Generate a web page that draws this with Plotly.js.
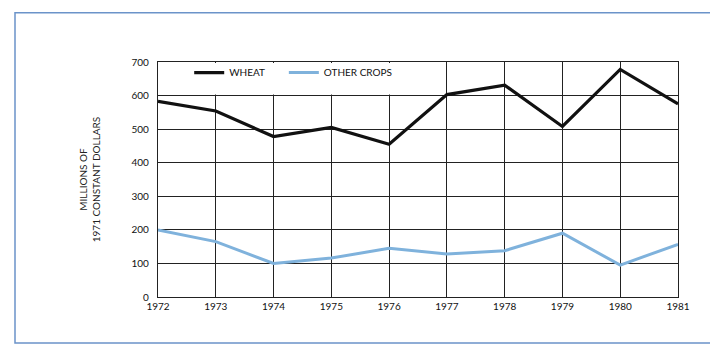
<!DOCTYPE html>
<html>
<head>
<meta charset="utf-8">
<script src="https://cdn.plot.ly/plotly-3.0.1.min.js"></script>
<style>html,body{margin:0;padding:0;background:#fff;}#chart{width:710px;height:358px;}</style>
</head>
<body>
<div id="chart"></div>
<script>
const years = [1972, 1973, 1974, 1975, 1976, 1977, 1978, 1979, 1980, 1981];
const wheat = [583, 554, 478, 505, 455, 603, 631, 508, 678, 575];
const otherCrops = [200, 165, 100, 116, 145, 128, 138, 190, 95, 157];
const yTicks = [0, 100, 200, 300, 400, 500, 600, 700];
const yTitle = "MILLIONS OF<br>1971 CONSTANT DOLLARS";

const fontFam = "Lato, 'DejaVu Sans', sans-serif";

const traces = [
  {x: years, y: wheat, name: "WHEAT", mode: "lines", type: "scatter", legend: "legend",
   line: {color: "#111111", width: 3.2}},
  {x: years, y: otherCrops, name: "OTHER CROPS", mode: "lines", type: "scatter", legend: "legend2",
   line: {color: "#7fb2dc", width: 3}}
];

const legendBase = {orientation: "h", y: 0.955, xanchor: "left", yanchor: "middle",
  bgcolor: "rgba(0,0,0,0)", font: {size: 10, family: fontFam, color: "#111"}};

const layout = {
  width: 710, height: 358, autosize: false,
  margin: {l: 158, r: 32, t: 62, b: 61},
  paper_bgcolor: "#ffffff", plot_bgcolor: "#ffffff",
  font: {family: fontFam, color: "#111", size: 10},
  showlegend: true,
  legend: Object.assign({}, legendBase, {x: 0.06}),
  legend2: Object.assign({}, legendBase, {x: 0.242}),
  xaxis: {range: [1972, 1981], tickvals: years, ticktext: years.map(String),
          showgrid: true, gridcolor: "#222", gridwidth: 1,
          showline: true, linecolor: "#222", linewidth: 1.2, mirror: true,
          zeroline: false, ticks: "", ticklen: 0,
          tickfont: {size: 10, family: fontFam, color: "#111"}},
  yaxis: {range: [0, 700], tickvals: yTicks, ticktext: yTicks.map(String),
          showgrid: true, gridcolor: "#222", gridwidth: 1,
          showline: true, linecolor: "#222", linewidth: 1.2, mirror: true,
          zeroline: false, ticks: "", ticklabelstandoff: 6,
          tickfont: {size: 10, family: fontFam, color: "#111"},
          title: {text: yTitle, font: {size: 10, family: fontFam, color: "#222"}, standoff: 28}},
  shapes: [
    {type: "rect", xref: "x", yref: "y", x0: 1972.02, x1: 1976.04, y0: 603, y1: 697,
     fillcolor: "#ffffff", line: {width: 0}, layer: "between"},
    {type: "rect", xref: "paper", yref: "paper", x0: -0.275, x1: 1.2, y0: -0.196, y1: 1.21,
     fillcolor: "rgba(0,0,0,0)", line: {color: "#6b93c9", width: 1.5}, layer: "below"}
  ]
};

Plotly.newPlot("chart", traces, layout, {displayModeBar: false, staticPlot: true});
</script>
</body>
</html>
